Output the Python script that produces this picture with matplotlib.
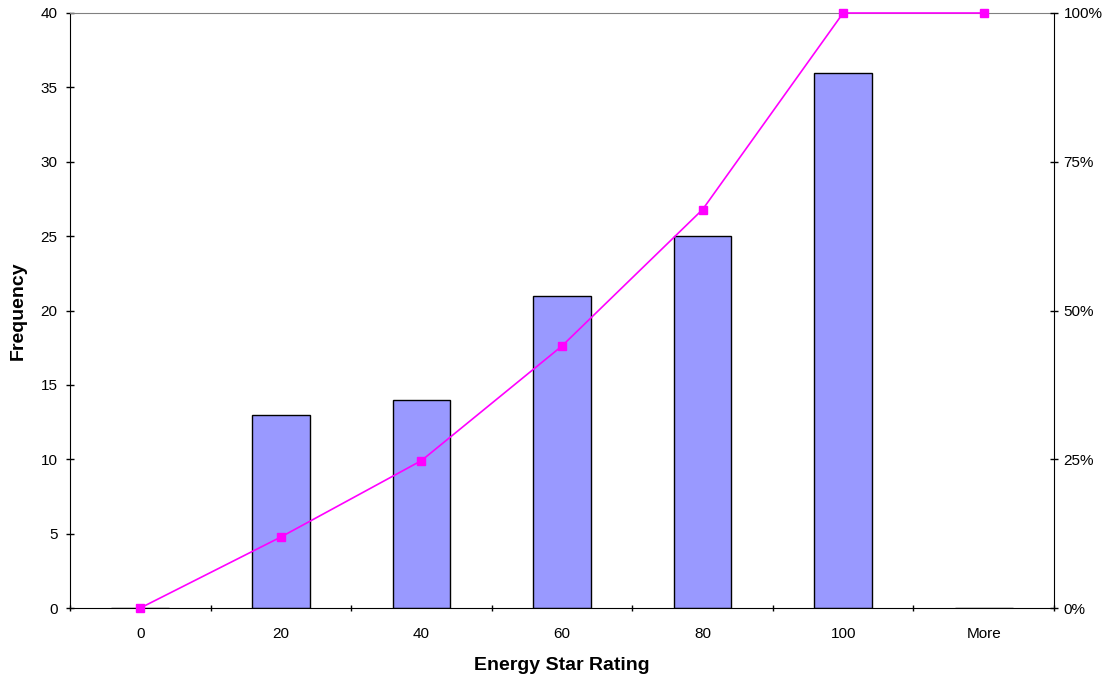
import numpy as np
import matplotlib
matplotlib.use("Agg")
import matplotlib.pyplot as plt
from matplotlib.ticker import FuncFormatter

plt.rcParams['font.family'] = ['Liberation Sans', 'DejaVu Sans']

categories = ["0", "20", "40", "60", "80", "100", "More"]
frequency = [0, 13, 14, 21, 25, 36, 0]
cumulative_pct = [0.0, 11.93, 24.77, 44.04, 66.97, 100.0, 100.0]

fig = plt.figure(figsize=(11.17, 6.78), dpi=100)
ax = fig.add_axes([70 / 1117, 70 / 678, 984 / 1117, 595 / 678])
x = np.arange(len(categories))

ax.bar(x, frequency, width=0.41, color="#9999FF", edgecolor="black", linewidth=1.0, zorder=2)
ax.set_xlim(-0.5, len(categories) - 0.5)
ax.set_ylim(0, 40)
ax.set_yticks(np.arange(0, 41, 5))
ax.set_xticks(x)
ax.set_xticklabels(categories)
ax.set_xticks(np.arange(-0.5, len(categories), 1), minor=True)
ax.tick_params(axis="x", which="major", length=0, pad=14, labelsize=11)
ax.tick_params(axis="x", which="minor", length=5, direction="inout", width=1)
ax.tick_params(axis="y", length=6, direction="inout", width=1, labelsize=11, pad=6)
ax.spines["top"].set_color("#808080")
ax.spines["right"].set_visible(False)
ax.spines["bottom"].set_zorder(5)
ax.set_xlabel("Energy Star Rating", fontsize=14, fontweight="bold", labelpad=11)
ax.set_ylabel("Frequency", fontsize=14, fontweight="bold", labelpad=10)

ax2 = ax.twinx()
ax2.plot(x, cumulative_pct, color="#FF00FF", linewidth=1.2, marker="s", markersize=6,
         markerfacecolor="#FF00FF", markeredgecolor="#FF00FF", zorder=3, clip_on=False)
ax2.set_ylim(0, 100)
ax2.set_yticks([0, 25, 50, 75, 100])
ax2.yaxis.set_major_formatter(FuncFormatter(lambda v, p: f"{int(v)}%"))
ax2.tick_params(axis="y", length=6, direction="inout", width=1, labelsize=11, pad=4)
ax2.spines["top"].set_visible(False)
ax2.spines["left"].set_visible(False)
ax2.spines["bottom"].set_visible(False)
ax2.set_zorder(ax.get_zorder() + 1)
ax2.patch.set_visible(False)
ax2.set_xlim(-0.5, len(categories) - 0.5)

fig.savefig("out.png", dpi=100)
